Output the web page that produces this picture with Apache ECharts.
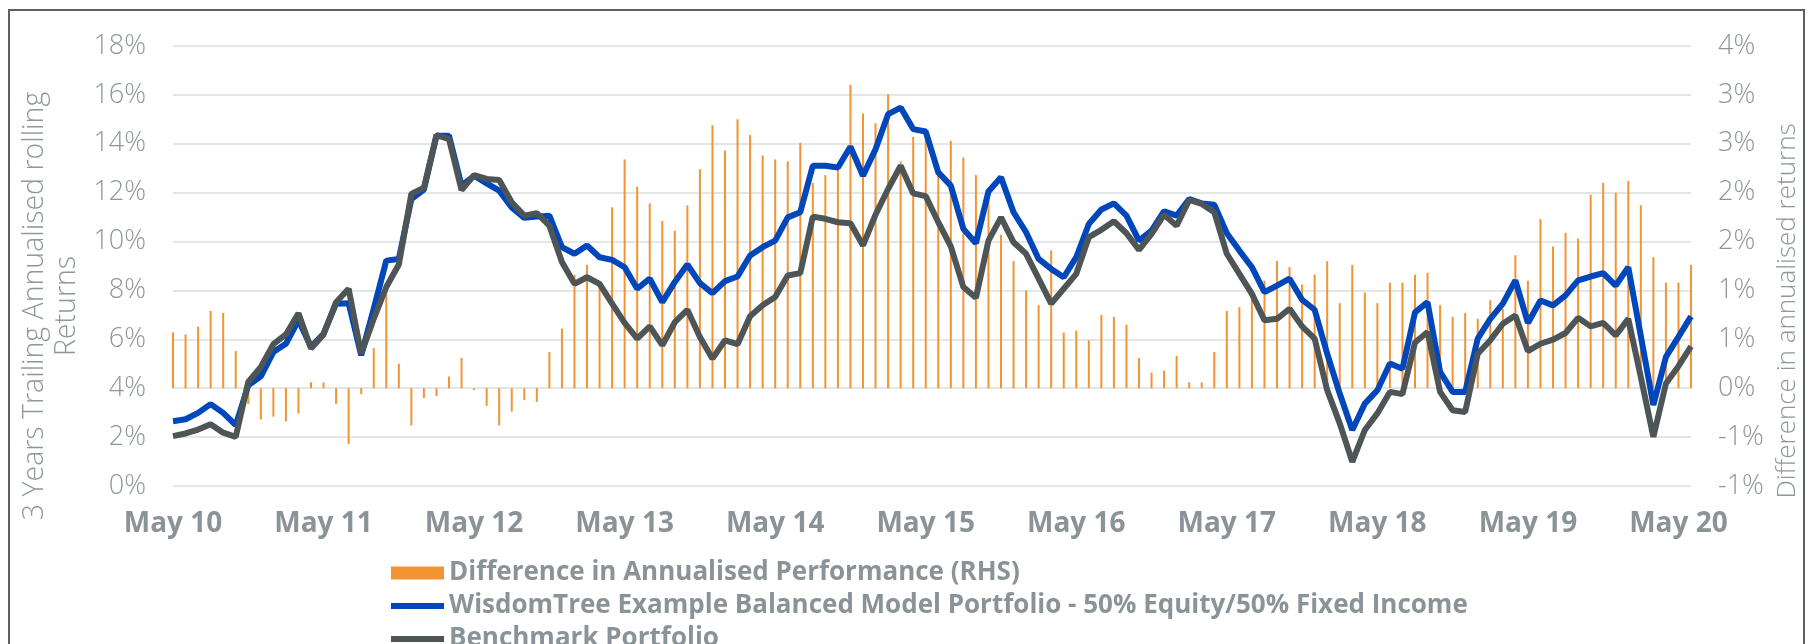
<!DOCTYPE html>
<html>
<head>
<meta charset="utf-8">
<script src="https://cdn.jsdelivr.net/npm/echarts@6/dist/echarts.min.js"></script>
<style>
html,body{margin:0;padding:0;background:#fff;}
#chart{width:1816px;height:644px;}
</style>
</head>
<body>
<div id="chart"></div>
<script>
const categories = [
 'May 10','Jun 10','Jul 10','Aug 10','Sep 10','Oct 10','Nov 10','Dec 10',
 'Jan 11','Feb 11','Mar 11','Apr 11','May 11','Jun 11','Jul 11','Aug 11','Sep 11','Oct 11','Nov 11','Dec 11',
 'Jan 12','Feb 12','Mar 12','Apr 12','May 12','Jun 12','Jul 12','Aug 12','Sep 12','Oct 12','Nov 12','Dec 12',
 'Jan 13','Feb 13','Mar 13','Apr 13','May 13','Jun 13','Jul 13','Aug 13','Sep 13','Oct 13','Nov 13','Dec 13',
 'Jan 14','Feb 14','Mar 14','Apr 14','May 14','Jun 14','Jul 14','Aug 14','Sep 14','Oct 14','Nov 14','Dec 14',
 'Jan 15','Feb 15','Mar 15','Apr 15','May 15','Jun 15','Jul 15','Aug 15','Sep 15','Oct 15','Nov 15','Dec 15',
 'Jan 16','Feb 16','Mar 16','Apr 16','May 16','Jun 16','Jul 16','Aug 16','Sep 16','Oct 16','Nov 16','Dec 16',
 'Jan 17','Feb 17','Mar 17','Apr 17','May 17','Jun 17','Jul 17','Aug 17','Sep 17','Oct 17','Nov 17','Dec 17',
 'Jan 18','Feb 18','Mar 18','Apr 18','May 18','Jun 18','Jul 18','Aug 18','Sep 18','Oct 18','Nov 18','Dec 18',
 'Jan 19','Feb 19','Mar 19','Apr 19','May 19','Jun 19','Jul 19','Aug 19','Sep 19','Oct 19','Nov 19','Dec 19',
 'Jan 20','Feb 20','Mar 20','Apr 20','May 20','Jun 20'
];

const difference = [
 0.57,0.55,0.63,0.79,0.77,0.38,-0.16,-0.32,-0.29,-0.34,
 -0.26,0.06,0.06,-0.16,-0.57,-0.06,0.41,1.00,0.25,-0.38,
 -0.10,-0.08,0.12,0.31,-0.02,-0.18,-0.38,-0.24,-0.12,-0.14,
 0.37,0.61,1.16,1.26,1.03,1.85,2.34,2.06,1.89,1.71,
 1.61,1.87,2.24,2.69,2.43,2.75,2.59,2.38,2.34,2.32,
 2.51,2.10,2.18,2.26,3.10,2.81,2.71,3.01,2.32,2.57,
 2.60,2.19,2.53,2.36,2.18,1.99,1.57,1.30,1.00,0.85,
 1.41,0.57,0.59,0.49,0.75,0.73,0.65,0.31,0.16,0.18,
 0.33,0.06,0.06,0.37,0.79,0.83,0.93,1.10,1.30,1.24,
 1.06,1.16,1.30,0.87,1.26,0.98,0.87,1.08,1.08,1.16,
 1.18,0.85,0.73,0.77,0.71,0.90,0.81,1.36,1.10,1.73,
 1.45,1.59,1.53,1.98,2.10,2.00,2.12,1.87,1.34,1.08,
 1.08,1.26
];

const wisdomTree = [
 2.65,2.73,2.99,3.35,2.99,2.49,4.12,4.49,5.48,5.82,
 6.78,5.69,6.23,7.46,7.48,5.35,7.25,9.22,9.29,11.74,
 12.13,14.33,14.33,12.29,12.69,12.38,12.08,11.40,10.97,11.02,
 11.06,9.77,9.50,9.84,9.36,9.25,8.95,8.07,8.48,7.52,
 8.35,9.06,8.30,7.89,8.38,8.57,9.43,9.77,10.04,10.99,
 11.20,13.10,13.10,13.03,13.88,12.69,13.78,15.21,15.48,14.60,
 14.50,12.83,12.29,10.52,9.93,12.05,12.63,11.20,10.38,9.29,
 8.88,8.54,9.36,10.72,11.31,11.56,11.06,10.04,10.45,11.24,
 11.06,11.74,11.56,11.51,10.34,9.63,8.95,7.93,8.20,8.48,
 7.62,7.21,5.41,3.78,2.29,3.37,3.92,5.01,4.80,7.10,
 7.52,4.67,3.85,3.85,6.03,6.84,7.46,8.41,6.67,7.59,
 7.39,7.80,8.41,8.57,8.71,8.20,8.95,6.14,3.31,5.28,
 6.10,6.94
];

const benchmark = [
 2.04,2.15,2.31,2.53,2.18,2.01,4.26,4.87,5.80,6.20,
 7.07,5.62,6.20,7.52,8.07,5.41,6.84,8.14,9.06,11.95,
 12.20,14.35,14.19,12.11,12.72,12.56,12.52,11.61,11.06,11.16,
 10.65,9.16,8.27,8.54,8.27,7.46,6.67,6.03,6.53,5.76,
 6.70,7.21,6.10,5.21,5.96,5.80,6.94,7.39,7.73,8.61,
 8.71,11.02,10.93,10.79,10.75,9.84,11.10,12.15,13.10,11.97,
 11.86,10.79,9.80,8.14,7.70,10.04,10.99,9.97,9.50,8.48,
 7.46,8.07,8.68,10.18,10.48,10.83,10.34,9.66,10.31,11.10,
 10.65,11.70,11.54,11.20,9.50,8.68,7.86,6.78,6.84,7.25,
 6.53,6.03,3.92,2.56,0.99,2.29,2.97,3.85,3.76,5.87,
 6.30,3.85,3.10,3.03,5.41,5.96,6.64,6.98,5.52,5.82,
 5.99,6.26,6.88,6.53,6.67,6.16,6.84,4.45,2.01,4.19,
 4.90,5.71
];

const leftTicks = ['0%','2%','4%','6%','8%','10%','12%','14%','16%','18%'];
const rightTicks = ['-1%','-1%','0%','1%','1%','2%','2%','3%','3%','4%'];

const seriesNames = [
 'Difference in Annualised Performance (RHS)',
 'WisdomTree Example Balanced Model Portfolio - 50% Equity/50% Fixed Income',
 'Benchmark Portfolio'
];

const tickColor = '#8E979B';
const boldGrey = '#8A9498';
const font = "'Open Sans', 'Noto Sans', sans-serif";
// legend line icon: 53x13 box with a 6px band in the middle
const lineIcon = 'path://M0,0L0.01,0M0,13L0.01,13M0,3.5L53,3.5L53,9.5L0,9.5Z';

const chart = echarts.init(document.getElementById('chart'), null, {renderer: 'canvas'});
const option = {
  animation: false,
  backgroundColor: '#ffffff',
  grid: {left: 173, right: 125, top: 46, bottom: 158, containLabel: false},
  graphic: [{
    type: 'rect', silent: true, z: -10,
    shape: {x: 9, y: 10, width: 1795, height: 700},
    style: {fill: 'none', stroke: '#5B6164', lineWidth: 2}
  }],
  legend: {
    orient: 'vertical', left: 386, top: 555, height: 300, width: 1300,
    itemWidth: 53, itemHeight: 13, itemGap: 7,
    textStyle: {color: boldGrey, fontFamily: font, fontWeight: 'bold', fontSize: 26, lineHeight: 26},
    data: [
      {name: seriesNames[0], icon: 'rect'},
      {name: seriesNames[1], icon: lineIcon},
      {name: seriesNames[2], icon: lineIcon}
    ]
  },
  xAxis: {
    type: 'category', boundaryGap: false, data: categories,
    axisLine: {show: false}, axisTick: {show: false}, splitLine: {show: false},
    axisLabel: {interval: 11, color: boldGrey, fontFamily: font, fontWeight: 'bold', fontSize: 28, margin: 24}
  },
  yAxis: [{
    type: 'value', min: 0, max: 18, interval: 2,
    axisLine: {show: false}, axisTick: {show: false},
    splitLine: {show: true, lineStyle: {color: '#E3E6E6', width: 2}},
    axisLabel: {color: tickColor, fontFamily: font, fontWeight: 300, fontSize: 27, margin: 27,
      formatter: v => leftTicks[Math.round(v / 2)]},
    name: '3 Years Trailing Annualised rolling\nReturns',
    nameLocation: 'middle', nameRotate: 90, nameGap: 86,
    nameTextStyle: {color: tickColor, fontFamily: font, fontWeight: 300, fontSize: 28.5, lineHeight: 32,
      align: 'center', padding: [0, 80, 0, 0]}
  }, {
    type: 'value', min: -1, max: 3.5, interval: 0.5, position: 'right',
    axisLine: {show: false}, axisTick: {show: false}, splitLine: {show: false},
    axisLabel: {color: tickColor, fontFamily: font, fontWeight: 300, fontSize: 27, margin: 27,
      formatter: v => rightTicks[Math.round((v + 1) / 0.5)]},
    name: 'Difference in annualised returns',
    nameLocation: 'middle', nameRotate: 90, nameGap: 72,
    nameTextStyle: {color: tickColor, fontFamily: font, fontWeight: 300, fontSize: 26,
      padding: [0, 90, 0, 0]}
  }],
  series: [{
    name: seriesNames[0], type: 'bar', yAxisIndex: 1, data: difference,
    barWidth: 2, itemStyle: {color: '#F39332'}, z: 1
  }, {
    name: seriesNames[1], type: 'line', data: wisdomTree, symbol: 'none',
    lineStyle: {color: '#0047BB', width: 6}, itemStyle: {color: '#0047BB'}, z: 2
  }, {
    name: seriesNames[2], type: 'line', data: benchmark, symbol: 'none',
    lineStyle: {color: '#4E5557', width: 6}, itemStyle: {color: '#4E5557'}, z: 3
  }]
};
chart.setOption(option);
</script>
</body>
</html>
